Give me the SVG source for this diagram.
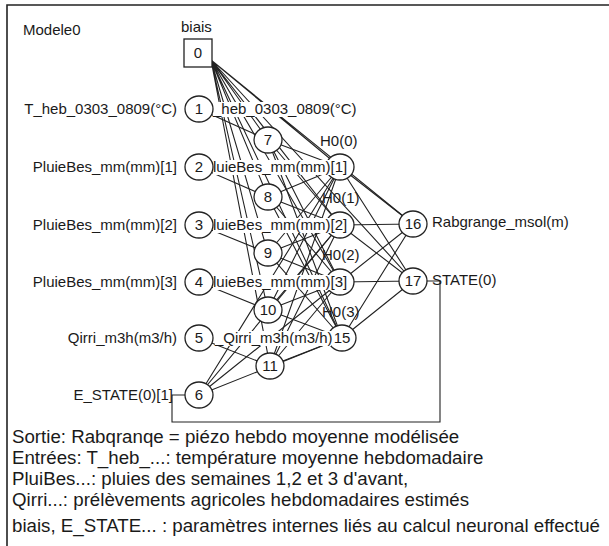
<svg xmlns="http://www.w3.org/2000/svg" width="609" height="546" viewBox="0 0 609 546">
<style>
text{font-family:"Liberation Sans",Arial,sans-serif;fill:#1a1a1a}
.lb{font-size:15px}
.num{font-size:15px;text-anchor:middle}
.ft{font-size:18.7px}
.n{fill:#fff;stroke:#222;stroke-width:1.3}
.c{fill:none;stroke:#222;stroke-width:1.1}
.bg{fill:#fff}
</style>
<rect x="0" y="0" width="609" height="546" fill="#fff"/>
<path d="M7 560V5H612" fill="none" stroke="#222" stroke-width="1.6"/>
<text class="lb" x="23" y="35">Modele0</text>
<g id="hlabels">
<text class="lb" x="320" y="146">H0(0)</text>
<text class="lb" x="322" y="203">H0(1)</text>
<text class="lb" x="322" y="260">H0(2)</text>
<text class="lb" x="322" y="317">H0(3)</text>
</g>
<g id="connectors" class="c">
<path d="M211 60L268 140M211 60L268 197M211 60L268 253M211 60L268 310M211 60L270 366M211 60L340 167M211 60L340 225M211 60L340 282M211 60L342 338M211 60L413 224M211 60L413 281"/>
<path d="M199 109L268 140M199 167L268 197M199 225L268 253M199 282L268 310M199 338L270 366"/>
<path d="M268 140L340 167M268 140L340 225M268 140L340 282M268 140L342 338"/>
<path d="M268 197L340 167M268 197L340 225M268 197L340 282M268 197L342 338"/>
<path d="M268 253L340 167M268 253L340 225M268 253L340 282M268 253L342 338"/>
<path d="M268 310L340 167M268 310L340 225M268 310L340 282M268 310L342 338"/>
<path d="M270 366L340 167M270 366L340 225M270 366L340 282M270 366L342 338"/>
<path d="M199 395L340 167M199 395L340 225M199 395L340 282M199 395L342 338"/>
<path d="M340 167L413 224M340 225L413 224M340 282L413 224M342 338L413 224"/>
<path d="M340 167L413 281M340 225L413 281M340 282L413 281M342 338L413 281"/>
<path d="M427 281H440V422H172V395H185"/>
</g>
<g id="n7"><ellipse class="n" cx="268" cy="140" rx="14" ry="13"/><text class="num" x="268" y="145">7</text></g>
<g id="n8"><ellipse class="n" cx="268" cy="197" rx="14" ry="13"/><text class="num" x="268" y="202">8</text></g>
<g id="n9"><ellipse class="n" cx="268" cy="253" rx="14" ry="13"/><text class="num" x="268" y="258">9</text></g>
<g id="n10"><ellipse class="n" cx="268" cy="310" rx="14" ry="13"/><text class="num" x="268" y="315">10</text></g>
<g id="n11"><ellipse class="n" cx="270" cy="366" rx="14" ry="13"/><text class="num" x="270" y="371">11</text></g>
<g id="n12"><ellipse class="n" cx="340" cy="167" rx="14" ry="13"/></g>
<g id="n13"><ellipse class="n" cx="340" cy="225" rx="14" ry="13"/></g>
<g id="n14"><ellipse class="n" cx="340" cy="282" rx="14" ry="13"/></g>
<g id="n15"><ellipse class="n" cx="342" cy="338" rx="14" ry="13"/><text class="num" x="342" y="343">15</text></g>
<g id="n16"><ellipse class="n" cx="413" cy="224" rx="14" ry="13"/><text class="num" x="413" y="229">16</text><text class="lb" x="432" y="227">Rabgrange_msol(m)</text></g>
<g id="n17"><ellipse class="n" cx="413" cy="281" rx="14" ry="13"/><text class="num" x="413" y="286">17</text><text class="lb" x="432" y="285">STATE(0)</text></g>
<g id="rlabels">
<rect class="bg" x="213" y="102" width="144" height="15"/><text class="lb" x="213" y="114">_heb_0303_0809(°C)</text>
<rect class="bg" x="213" y="160" width="135" height="15"/><text class="lb" x="213" y="172">luieBes_mm(mm)[1]</text>
<rect class="bg" x="213" y="218" width="135" height="15"/><text class="lb" x="213" y="230">luieBes_mm(mm)[2]</text>
<rect class="bg" x="213" y="275" width="135" height="15"/><text class="lb" x="213" y="287">luieBes_mm(mm)[3]</text>
<rect class="bg" x="215" y="331" width="116" height="15"/><text class="lb" x="215" y="343">_Qirri_m3h(m3/h)</text>
</g>
<g id="n0"><text class="lb" x="181" y="32">biais</text><rect class="n" x="184" y="39" width="28" height="28"/><text class="num" x="198" y="58">0</text></g>
<g id="n1"><text class="lb" x="177" y="114" text-anchor="end">T_heb_0303_0809(°C)</text><ellipse class="n" cx="199" cy="109" rx="14" ry="13"/><text class="num" x="199" y="114">1</text></g>
<g id="n2"><text class="lb" x="177" y="172" text-anchor="end">PluieBes_mm(mm)[1]</text><ellipse class="n" cx="199" cy="167" rx="14" ry="13"/><text class="num" x="199" y="172">2</text></g>
<g id="n3"><text class="lb" x="177" y="230" text-anchor="end">PluieBes_mm(mm)[2]</text><ellipse class="n" cx="199" cy="225" rx="14" ry="13"/><text class="num" x="199" y="230">3</text></g>
<g id="n4"><text class="lb" x="177" y="287" text-anchor="end">PluieBes_mm(mm)[3]</text><ellipse class="n" cx="199" cy="282" rx="14" ry="13"/><text class="num" x="199" y="287">4</text></g>
<g id="n5"><text class="lb" x="177" y="343" text-anchor="end">Qirri_m3h(m3/h)</text><ellipse class="n" cx="199" cy="338" rx="14" ry="13"/><text class="num" x="199" y="343">5</text></g>
<g id="n6"><text class="lb" x="173" y="400" text-anchor="end">E_STATE(0)[1]</text><ellipse class="n" cx="199" cy="395" rx="14" ry="13"/><text class="num" x="199" y="400">6</text></g>
<g id="legend">
<text class="ft" x="12" y="443">Sortie: Rabqranqe = piézo hebdo moyenne modélisée</text>
<text class="ft" x="12" y="464">Entrées: T_heb_...: température moyenne hebdomadaire</text>
<text class="ft" x="12" y="485">PluiBes...: pluies des semaines 1,2 et 3 d'avant,</text>
<text class="ft" x="12" y="506">Qirri...: prélèvements agricoles hebdomadaires estimés</text>
<text class="ft" x="12" y="532">biais, E_STATE... : paramètres internes liés au calcul neuronal effectué</text>
</g>
</svg>
